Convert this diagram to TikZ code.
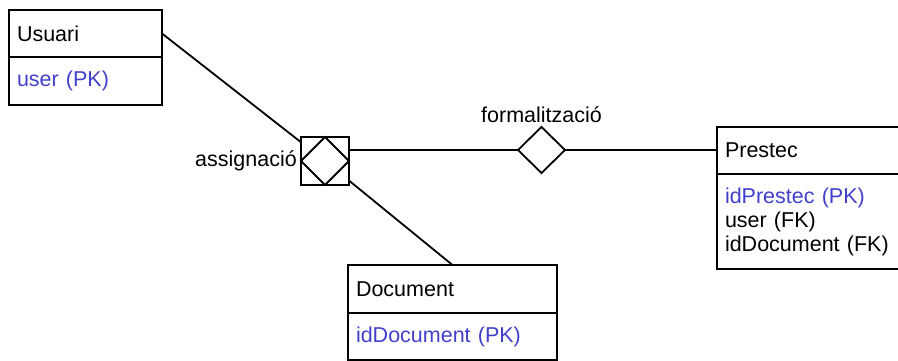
\documentclass[tikz,border=0pt]{standalone}
\usepackage{fontspec}
\setmainfont{Liberation Sans}
\usepackage{xcolor}
\usetikzlibrary{shapes, positioning}

\definecolor{pkblue}{RGB}{64,64,204}

\begin{document}
\begin{tikzpicture}[x=1pt, y=-1pt, line width=1.8pt, font=\fontsize{21.5}{24}\selectfont]
        \tikzstyle{entity} = [draw, rectangle, outer sep=0pt, inner xsep=8pt, inner ysep=0pt, align=left]
        \tikzstyle{relation} = [draw, diamond, outer sep=0pt, inner sep=0pt]
        \tikzstyle{pk} = [text=pkblue]

        \useasboundingbox (0,0) rectangle (898,361);

        % --- entitats ---
        \node [entity, text width=137pt, minimum height=47pt] (usuari) at (85.5,33.5) {Usuari};
        \node [entity, pk, text width=137pt, minimum height=48pt, below=0pt of usuari] (usuari_pk) {user (PK)};

        \node [entity, text width=168pt, minimum height=47pt] (prestec) at (809,150.5) {Prestec};
        \node [entity, text width=168pt, minimum height=95pt, below=0pt of prestec] (prestec_attr)
            {\textcolor{pkblue}{idPrestec (PK)}\\ user (FK)\\ idDocument (FK)};

        \node [entity, text width=193pt, minimum height=48pt] (document) at (452.5,289) {Document};
        \node [entity, pk, text width=193pt, minimum height=47pt, below=0pt of document] (document_pk) {idDocument (PK)};

        % --- relacions ---
        \node [draw, rectangle, outer sep=0pt, minimum size=48pt] (assig) at (325,161) {};
        \node [relation, minimum width=48pt, minimum height=48pt] (assig_rel) at (assig) {};
        \node [left=0pt of assig] (assig_lbl) {assignació};

        \node [relation, minimum width=47pt, minimum height=46pt] (formal) at (541.5,150) {};
        \node [above=0pt of formal] (formal_lbl) {formalització};

        % --- connexions ---
        \draw (usuari.east) -- (assig);
        \draw (assig) -- (document.north);
        \draw (assig.east |- formal.west) -- (formal.west);
        \draw (formal.east) -- (formal.east -| prestec.west);

    \end{tikzpicture}
\end{document}
